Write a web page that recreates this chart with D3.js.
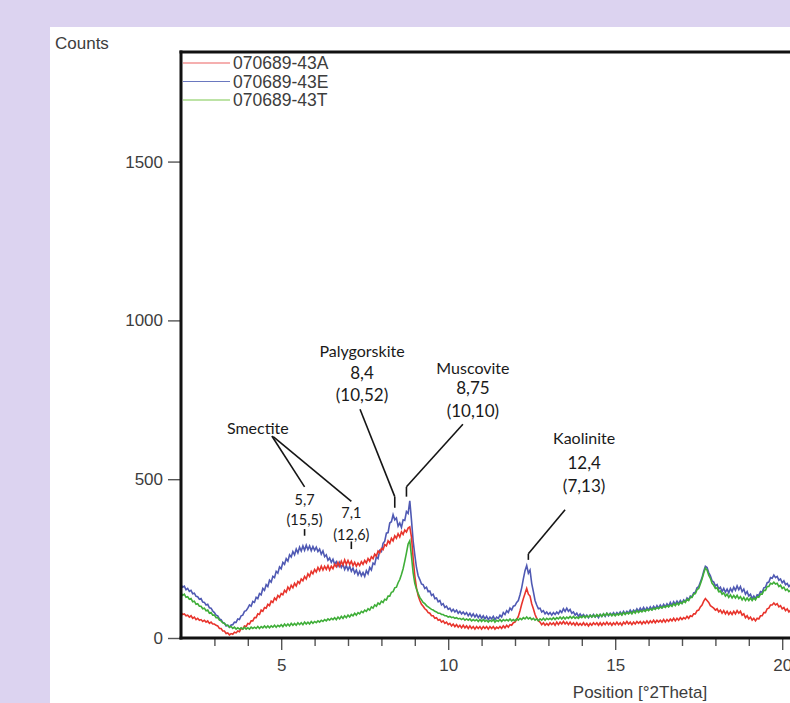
<!DOCTYPE html>
<html>
<head>
<meta charset="utf-8">
<script src="https://cdn.jsdelivr.net/npm/d3@7"></script>
<style>
  html, body { margin: 0; padding: 0; background: #dcd3f0; }
  svg { display: block; }
</style>
</head>
<body>
<svg id="chart" width="790" height="703"></svg>
<script>
// XRD scan: counts sampled every 0.05 °2Theta starting at 2.00
const thetaStart = 2.0;
const thetaStep = 0.05;

const seriesNames = ["070689-43A", "070689-43E", "070689-43T"];

const counts43A = [
  80,74,76,70,72,66,70,62,66,58,62,56,58,52,56,50,54,46,50,44,
  44,40,38,30,30,22,22,14,16,10,14,12,18,16,22,20,30,28,38,36,
  46,44,54,54,64,64,76,74,88,84,96,94,106,102,116,112,126,120,134,128,
  140,136,150,144,160,152,166,158,172,164,178,172,186,180,194,186,202,194,210,202,
  216,208,222,212,226,214,226,216,228,214,226,218,232,224,238,226,242,230,246,232,
  244,232,242,228,238,226,236,228,240,232,244,236,250,242,256,250,264,258,274,268,
  282,278,294,290,306,298,314,306,322,314,328,318,334,326,340,334,346,350,318,252,
  196,158,134,118,106,100,92,88,80,78,70,70,62,64,56,58,50,54,46,50,
  42,46,38,44,36,42,34,40,32,40,32,38,30,38,30,36,28,36,30,36,
  28,36,30,36,28,36,30,36,28,34,30,36,30,38,32,40,34,42,40,48,
  50,58,68,86,106,124,140,156,138,132,108,92,74,62,54,50,42,48,40,46,
  40,48,42,48,40,50,42,50,44,52,44,50,42,50,42,48,40,48,40,46,
  40,48,40,46,38,46,40,48,42,48,40,48,40,48,42,50,42,48,40,48,
  42,50,42,48,40,50,44,52,44,50,42,50,44,52,46,52,44,52,46,54,
  46,54,48,56,48,56,50,56,50,58,50,58,52,60,54,62,54,62,56,64,
  58,64,60,68,62,70,68,76,76,86,88,98,104,116,124,118,112,102,98,94,
  88,92,82,88,78,86,76,84,74,82,74,84,76,86,78,84,72,76,64,70,
  60,66,56,62,54,62,60,70,70,80,80,92,94,104,104,110,104,108,98,102,
  92,96,86,92,82,88,84
];

const counts43E = [
  168,160,163,152,156,147,150,139,141,131,130,122,124,113,112,104,106,95,94,85,
  80,72,70,60,58,49,47,38,40,34,41,42,50,49,60,58,70,72,84,86,
  94,104,100,115,112,128,124,140,136,156,150,168,162,182,176,194,190,210,204,224,
  218,238,232,250,242,262,255,272,262,280,268,286,274,290,276,292,278,290,275,288,
  276,286,272,280,264,274,256,262,245,252,238,248,232,240,226,238,222,232,216,228,
  214,226,210,220,204,214,198,210,196,206,194,212,202,222,214,236,232,256,250,276,
  272,298,305,330,332,362,366,388,372,378,352,362,348,372,370,398,392,432,372,306,
  262,222,196,184,170,168,156,160,146,148,134,138,124,126,114,118,104,108,96,100,
  90,94,84,90,82,88,78,84,76,82,74,80,70,78,68,76,66,74,64,72,
  62,70,60,68,58,66,60,68,58,66,62,72,66,80,74,86,80,94,88,100,
  102,112,118,136,158,186,212,228,204,214,172,146,118,104,92,94,82,86,76,82,
  74,80,72,80,74,82,76,86,80,92,84,94,84,90,78,82,72,78,68,76,
  68,74,66,72,64,72,66,74,66,72,64,74,68,76,68,78,70,78,72,80,
  72,80,74,82,74,84,76,84,78,88,80,88,82,92,84,94,86,96,86,96,
  88,98,90,100,92,102,94,104,96,106,98,108,100,112,102,114,106,116,108,118,
  110,120,114,126,120,132,130,142,144,158,162,176,190,210,226,222,206,196,180,176,
  164,168,154,160,146,156,144,154,142,156,146,160,150,164,152,162,146,154,138,146,
  132,138,124,132,124,136,134,146,144,158,160,174,176,190,188,198,190,194,182,186,
  174,180,168,172,162,168,160
];

const counts43T = [
  142,134,138,128,130,122,124,114,116,106,108,100,100,92,94,86,88,78,80,72,
  72,64,64,56,54,48,46,40,40,34,36,30,34,28,32,28,32,28,34,28,
  32,28,34,30,34,30,36,30,36,32,38,32,38,32,38,34,40,34,40,36,
  42,36,44,38,44,38,46,40,46,40,48,42,48,42,50,44,50,44,52,46,
  52,48,54,50,56,52,58,54,60,56,62,58,64,58,66,60,68,62,70,64,
  72,66,74,70,78,72,80,76,84,80,88,84,92,88,98,94,104,100,110,106,
  116,112,122,120,132,132,144,146,158,160,174,184,200,218,242,268,296,306,258,206,
  172,154,140,128,120,112,108,102,98,94,90,88,84,82,78,78,74,74,70,70,
  66,68,64,66,62,64,60,62,58,62,56,60,56,60,54,58,54,58,52,58,
  52,58,52,56,50,56,52,58,50,56,52,58,52,58,54,58,54,60,54,58,
  54,60,56,62,58,64,60,66,60,64,58,62,56,60,54,60,56,62,56,62,
  58,62,58,64,58,64,60,66,60,66,60,66,62,68,62,68,62,66,62,68,
  64,70,64,70,66,72,66,72,66,74,68,74,68,76,70,78,72,76,70,76,
  70,76,72,78,72,80,74,80,76,82,76,84,78,86,80,86,82,88,84,90,
  86,92,88,94,90,96,92,98,94,100,96,102,98,104,100,108,102,110,104,112,
  108,116,112,122,118,128,128,138,140,152,156,170,186,204,220,214,198,188,172,166,
  156,158,146,148,138,142,132,138,128,136,126,134,126,134,124,130,120,128,118,126,
  118,126,118,126,120,130,128,138,138,150,150,162,162,172,170,176,170,172,162,166,
  156,160,150,154,146,150,144
];

const yTickValues = [0, 500, 1000, 1500];
const xMajorTicks = [5, 10, 15, 20];
const xMinorTicks = [3, 4, 6, 7, 8, 9, 11, 12, 13, 14, 16, 17, 18, 19];

// Mineral reflections: peak position (°2Theta) with d-spacing in Å
const minerals = ["Smectite", "Palygorskite", "Muscovite", "Kaolinite"];
const peakTheta = [5.7, 7.1, 8.4, 8.75, 12.4];
const peakLabel = ["5,7", "7,1", "8,4", "8,75", "12,4"];
const peakSpacing = ["(15,5)", "(12,6)", "(10,52)", "(10,10)", "(7,13)"];

// ---------------------------------------------------------------
const svg = d3.select("#chart");
const W = 790, H = 703;

const colors = ["#e8342c", "#4f59b3", "#3fae38"];
const legendColors = ["#ec6060", "#6a78bf", "#7cc74e"];

const x = d3.scaleLinear().domain([2, 22]).range([181, 849]);
const y = d3.scaleLinear().domain([0, 1845]).range([638, 52]);

svg.append("rect").attr("width", W).attr("height", H).attr("fill", "#dcd3f0");
svg.append("rect").attr("x", 50).attr("y", 27).attr("width", W - 50).attr("height", H - 27).attr("fill", "#ffffff");

const textColor = "#3d3d3d";
const axisFont = "'Liberation Sans', Arial, Helvetica, sans-serif";

// y axis
const yAxis = svg.append("g")
  .attr("transform", `translate(${x(2)},0)`)
  .call(d3.axisLeft(y).tickValues(yTickValues).tickSize(13).tickPadding(5).tickFormat(d3.format("d")));
yAxis.select(".domain").remove();
yAxis.selectAll(".tick line").attr("stroke", "#555").attr("stroke-width", 1.4);
yAxis.selectAll(".tick text").attr("fill", textColor).style("font-family", axisFont).style("font-size", "17px");

// x axis: major + minor ticks
const xAxisMajor = svg.append("g")
  .attr("transform", `translate(0,${y(0)})`)
  .call(d3.axisBottom(x).tickValues(xMajorTicks).tickSize(12).tickPadding(9).tickFormat(d3.format("d")));
xAxisMajor.select(".domain").remove();
xAxisMajor.selectAll(".tick line").attr("stroke", "#555").attr("stroke-width", 1.4);
xAxisMajor.selectAll(".tick text").attr("fill", textColor).style("font-family", axisFont).style("font-size", "17px");

const xAxisMinor = svg.append("g")
  .attr("transform", `translate(0,${y(0)})`)
  .call(d3.axisBottom(x).tickValues(xMinorTicks).tickSize(8).tickFormat(""));
xAxisMinor.select(".domain").remove();
xAxisMinor.selectAll(".tick line").attr("stroke", "#555").attr("stroke-width", 1.4);

// axis titles
svg.append("text").attr("x", 55).attr("y", 49).text("Counts")
  .attr("fill", textColor).style("font-family", axisFont).style("font-size", "17px");
svg.append("text").attr("x", 640).attr("y", 698).attr("text-anchor", "middle").text("Position [°2Theta]")
  .attr("fill", textColor).style("font-family", axisFont).style("font-size", "17px");

// curves
svg.append("clipPath").attr("id", "plotClip")
  .append("rect").attr("x", x(2)).attr("y", y(1845)).attr("width", x(22) - x(2)).attr("height", y(0) - y(1845));

const line = d3.line()
  .x((d, i) => x(thetaStart + i * thetaStep))
  .y(d => y(d));

const series = [counts43A, counts43E, counts43T];
const drawOrder = [1, 0, 2];
const curves = svg.append("g").attr("clip-path", "url(#plotClip)");
drawOrder.forEach(k => {
  curves.append("path")
    .datum(series[k])
    .attr("d", line)
    .attr("fill", "none")
    .attr("stroke", colors[k])
    .attr("stroke-width", 1.6)
    .attr("stroke-linejoin", "miter");
});

// frame: left axis, top border, bottom axis
const frame = svg.append("g").attr("stroke", "#111").attr("stroke-width", 3).attr("fill", "none");
frame.append("line").attr("x1", x(2)).attr("x2", x(2)).attr("y1", y(1845) - 1.5).attr("y2", y(0) + 1.5);
frame.append("line").attr("x1", x(2) - 1.5).attr("x2", W).attr("y1", y(1845)).attr("y2", y(1845));
frame.append("line").attr("x1", x(2) - 1.5).attr("x2", W).attr("y1", y(0)).attr("y2", y(0));

// legend
const legend = svg.append("g");
seriesNames.forEach((name, i) => {
  const ly = 63 + i * 18.5;
  legend.append("line").attr("x1", x(2) + 2).attr("x2", 230).attr("y1", ly).attr("y2", ly)
    .attr("stroke", legendColors[i]).attr("stroke-width", 1.1);
  legend.append("text").attr("x", 233).attr("y", ly + 6).text(name)
    .attr("fill", textColor).style("font-family", axisFont).style("font-size", "17.5px");
});

// peak annotations
const annFont = "Lato, 'Open Sans', sans-serif";
const ann = svg.append("g").attr("fill", "#1a1a1a");
const lead = svg.append("g").attr("stroke", "#151515").attr("stroke-width", 1.6).attr("fill", "none");

function label(txt, tx, cnt, size) {
  ann.append("text").attr("x", x(tx)).attr("y", y(cnt)).attr("text-anchor", "middle")
    .text(txt).style("font-family", annFont).style("font-size", size + "px");
}
function seg(t1, c1, t2, c2) {
  lead.append("line").attr("x1", x(t1)).attr("y1", y(c1)).attr("x2", x(t2)).attr("y2", y(c2));
}

// Smectite: one name, two reflections
label(minerals[0], 4.3, 642, 16);
seg(4.72, 636, peakTheta[0], 476);
seg(4.76, 634, peakTheta[1], 430);
label(peakLabel[0], peakTheta[0], 418, 14.5);
label(peakSpacing[0], peakTheta[0], 356, 14.5);
seg(peakTheta[0], 343, peakTheta[0], 322);
label(peakLabel[1], peakTheta[1], 378, 14.5);
label(peakSpacing[1], peakTheta[1], 309, 14.5);
seg(peakTheta[1], 304, peakTheta[1], 280);

// Palygorskite
label(minerals[1], 7.42, 884, 16);
label(peakLabel[2], 7.42, 815, 17);
label(peakSpacing[2], 7.42, 745, 17);
seg(7.36, 720, peakTheta[2], 445);
seg(peakTheta[2], 445, peakTheta[2], 410);

// Muscovite
label(minerals[2], 10.74, 830, 16);
label(peakLabel[3], 10.74, 767, 17);
label(peakSpacing[3], 10.74, 695, 17);
seg(10.44, 673, peakTheta[3], 476);
seg(peakTheta[3], 476, peakTheta[3], 445);

// Kaolinite
label(minerals[3], 14.07, 610, 16);
label(peakLabel[4], 14.07, 532, 17);
label(peakSpacing[4], 14.07, 459, 17);
seg(13.5, 404, peakTheta[4], 265);
seg(peakTheta[4], 265, peakTheta[4], 246);
</script>
</body>
</html>
